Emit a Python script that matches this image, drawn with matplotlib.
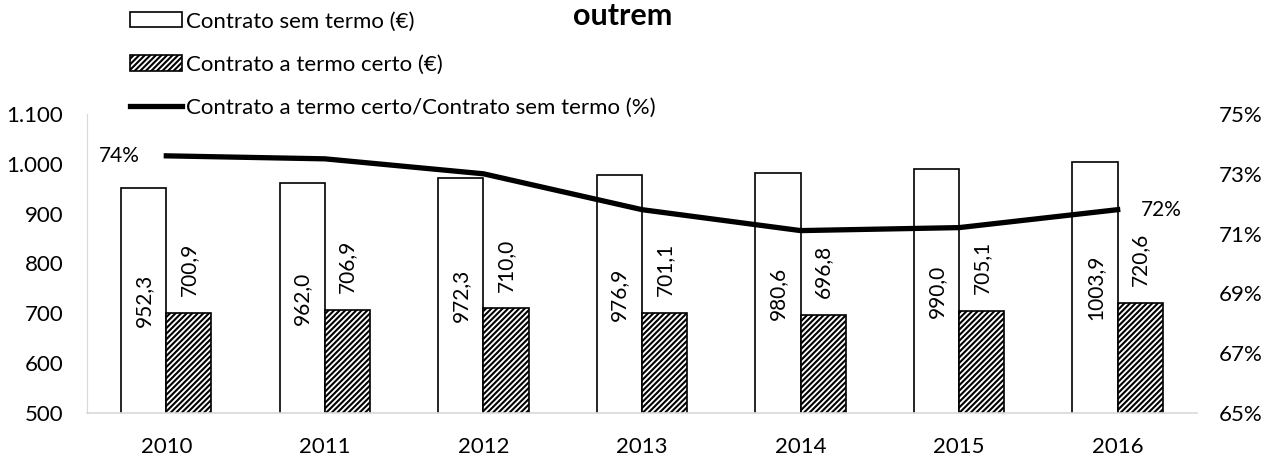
import numpy as np
import matplotlib.pyplot as plt
from matplotlib.ticker import FuncFormatter

plt.rcParams.update({
    "font.family": ["Lato", "DejaVu Sans"],
    "font.size": 16,
    "hatch.color": "#8c8c8c",
    "hatch.linewidth": 1.5,
})

years = ['2010', '2011', '2012', '2013', '2014', '2015', '2016']
sem_termo = [952.3, 962.0, 972.3, 976.9, 980.6, 990.0, 1003.9]
termo_certo = [700.9, 706.9, 710.0, 701.1, 696.8, 705.1, 720.6]
racio = [73.6, 73.5, 73.0, 71.8, 71.1, 71.2, 71.8]

fig = plt.figure(figsize=(12.63, 4.55), dpi=100)
ax = fig.add_axes([0.0689, 0.0923, 0.8788, 0.6572])
ax2 = ax.twinx()

x = np.arange(len(years))
w = 0.285

b1 = ax.bar(x - w / 2, sem_termo, w, color='white', edgecolor='black',
            linewidth=1.2, label='Contrato sem termo (€)', zorder=2)
b2 = ax.bar(x + w / 2, termo_certo, w, color='white', edgecolor='black',
            linewidth=1.2, hatch='//////', label='Contrato a termo certo (€)', zorder=2)

# value labels
for xi, v in zip(x, sem_termo):
    ax.text(xi - w / 2, (500 + v) / 2, f'{v:.1f}'.replace('.', ','), rotation=90,
            ha='center', va='center', fontsize=15, zorder=4)
for xi, v in zip(x, termo_certo):
    ax.annotate(f'{v:.1f}'.replace('.', ','), (xi + w / 2, v), xytext=(0, 12),
                textcoords='offset points', rotation=90, ha='center', va='bottom',
                fontsize=15, zorder=4)

ln, = ax2.plot(x, racio, color='black', linewidth=3.8,
               label='Contrato a termo certo/Contrato sem termo (%)', zorder=5)
ax2.annotate(f'{racio[0]:.0f}%', (x[0], racio[0]), xytext=(-19, 0),
             textcoords='offset points', ha='right', va='center', fontsize=15)
ax2.annotate(f'{racio[-1]:.0f}%', (x[-1], racio[-1]), xytext=(17, 0),
             textcoords='offset points', ha='left', va='center', fontsize=15)

ax.set_xlim(-0.5, len(years) - 0.5)
ax.set_ylim(500, 1100)
ax.set_yticks(range(500, 1101, 100))
ax.yaxis.set_major_formatter(FuncFormatter(lambda v, p: f'{int(v):,}'.replace(',', '.')))
ax.set_xticks(x)
ax.set_xticklabels(years)

ax2.set_ylim(65, 75)
ax2.set_yticks(range(65, 76, 2))
ax2.yaxis.set_major_formatter(FuncFormatter(lambda v, p: f'{int(v)}%'))

for a in (ax, ax2):
    for s in ('top', 'right'):
        a.spines[s].set_visible(False)
    a.tick_params(length=0, labelsize=16)
ax2.spines['left'].set_visible(False)
ax2.spines['bottom'].set_visible(False)
ax.spines['left'].set_color('#d9d9d9')
ax.spines['bottom'].set_color('#d9d9d9')
ax.spines['bottom'].set_linewidth(1.2)
ax.tick_params(axis='y', pad=17)
ax.tick_params(axis='x', pad=17)
ax2.tick_params(axis='y', pad=16)

fig.legend(handles=[b1, b2, ln], loc='upper left', bbox_to_anchor=(0.103, 0.975),
           frameon=False, fontsize=16, handlelength=2.35, handletextpad=0.18,
           labelspacing=1.05, borderaxespad=0, borderpad=0)

fig.text(0.493, 0.945, 'outrem', ha='center', va='baseline', fontsize=22,
         fontweight='bold')

fig.savefig('out.png', dpi=100)
